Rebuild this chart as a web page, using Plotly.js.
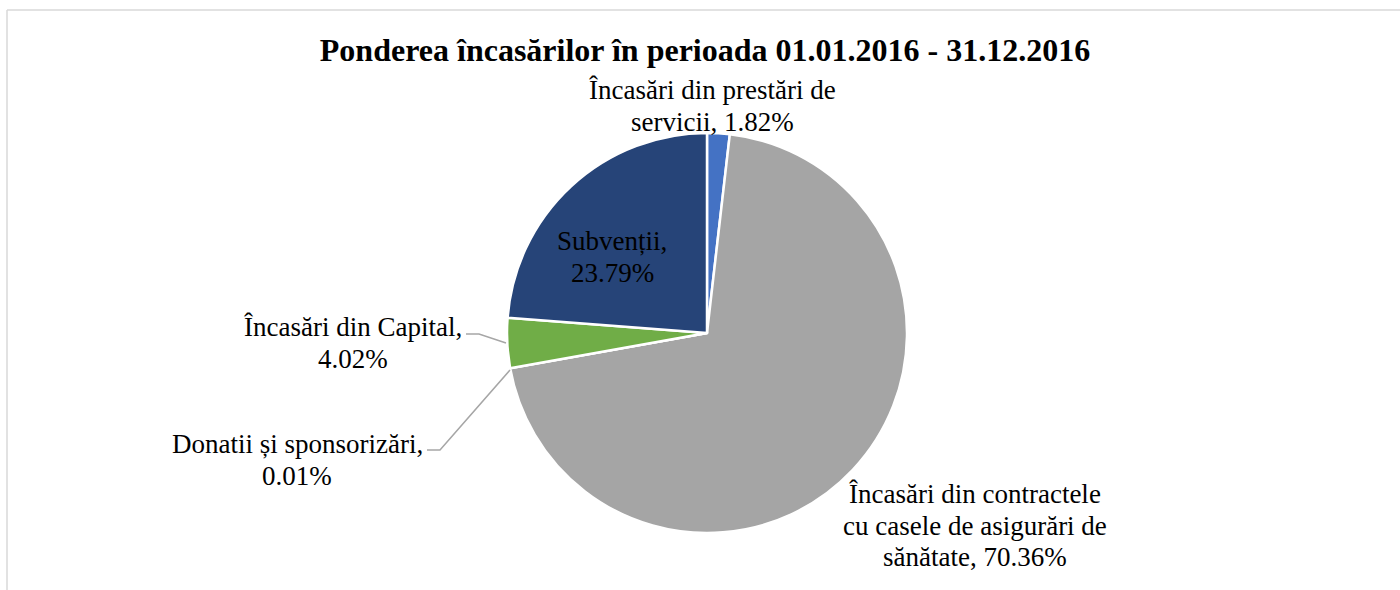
<!DOCTYPE html>
<html><head><meta charset="utf-8">
<script src="https://cdn.plot.ly/plotly-3.0.1.min.js"></script>
<style>html,body{margin:0;padding:0;background:#fff}</style>
</head><body><div id="chart" style="width:1400px;height:590px"></div>
<script>
const categories = ["Încasări din prestări de servicii", "Încasări din contractele cu casele de asigurări de sănătate", "Donatii și sponsorizări", "Încasări din Capital", "Subvenții"];
const values = [1.82, 70.36, 0.01, 4.02, 23.79];
const colors = ["#4472C4", "#A5A5A5", "#FFC000", "#70AD47", "#264478"];
// label line breaks (text lines as displayed)
const labelLines = [
  ["Încasări din prestări de", "servicii, {v}%"],
  ["Încasări din contractele", "cu casele de asigurări de", "sănătate, {v}%"],
  ["Donatii și sponsorizări,", "{v}%"],
  ["Încasări din Capital,", "{v}%"],
  ["Subvenții,", "{v}%"]
];
const W = 1400, H = 590;
const labelPos = [[713, 90], [975, 494], [297, 444], [353, 327], [612, 241]];
const lineGap = 31.5;
const FONT = "'Liberation Serif', 'Times New Roman', serif";

const annotations = [];
labelLines.forEach((lines, i) => {
  lines.forEach((ln, j) => {
    annotations.push({
      text: ln.replace("{v}", values[i].toFixed(2)),
      xref: "paper", yref: "paper",
      x: labelPos[i][0] / W, y: 1 - (labelPos[i][1] + j * lineGap) / H,
      xanchor: "center", yanchor: "middle", showarrow: false,
      font: {family: FONT, size: 27, color: "#000"}
    });
  });
});

const leader = (pts) => ({
  type: "path", xref: "paper", yref: "paper",
  path: "M " + pts.map(p => (p[0] / W) + "," + (1 - p[1] / H)).join(" L "),
  line: {color: "#A6A6A6", width: 1.5}
});

const shapes = [
  {type: "line", xref: "paper", yref: "paper", x0: 7 / W, x1: 1.01, y0: 1 - 10 / H, y1: 1 - 10 / H, line: {color: "#D9D9D9", width: 1.5}},
  {type: "line", xref: "paper", yref: "paper", x0: 7 / W, x1: 7 / W, y0: 1 - 10 / H, y1: -0.01, line: {color: "#D9D9D9", width: 1.5}},
  leader([[466, 334], [479, 334], [506, 343]]),
  leader([[427, 450], [440, 450], [510, 370]])
];

const data = [{
  type: "pie",
  labels: categories,
  values: values,
  sort: false,
  direction: "clockwise",
  rotation: 0,
  textinfo: "none",
  hoverinfo: "label+percent",
  marker: {colors: colors, line: {color: "#FFFFFF", width: 2.5}},
  domain: {x: [507 / W, 907 / W], y: [1 - 533 / H, 1 - 133 / H]},
  showlegend: false
}];

const layout = {
  width: W, height: H,
  margin: {l: 0, r: 0, t: 0, b: 0},
  paper_bgcolor: "#FFFFFF",
  title: {
    text: "<b>Ponderea încasărilor în perioada 01.01.2016 - 31.12.2016</b>",
    xref: "paper", yref: "paper", x: 705 / W, xanchor: "center",
    y: 1 - 50 / H, yanchor: "middle",
    font: {family: FONT, size: 32, color: "#000"}
  },
  annotations: annotations,
  shapes: shapes,
  showlegend: false
};

Plotly.newPlot("chart", data, layout, {displayModeBar: false, staticPlot: true});
</script></body></html>
